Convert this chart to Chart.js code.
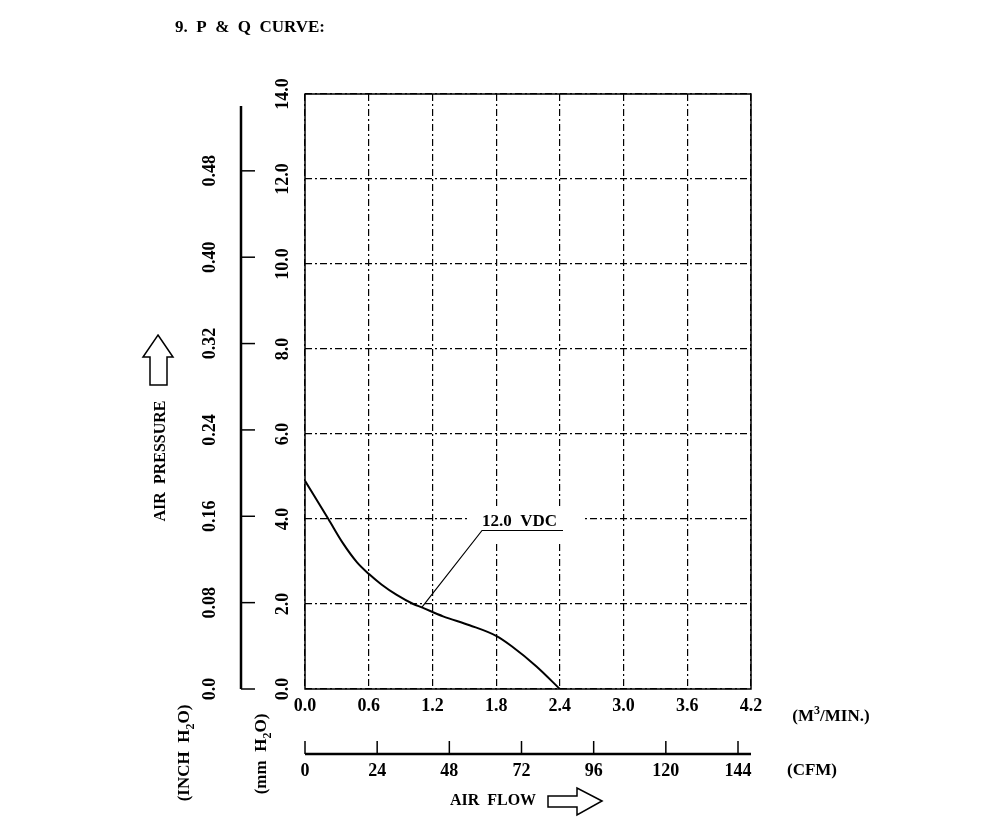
<!DOCTYPE html>
<html>
<head>
<meta charset="utf-8">
<script src="https://cdn.jsdelivr.net/npm/chart.js@4.4.1/dist/chart.umd.min.js"></script>
<style>
html, body { margin: 0; padding: 0; background: #fff; }
#wrap { width: 1000px; height: 824px; }
</style>
</head>
<body>
<div id="wrap"><canvas id="pq" width="1000" height="824"></canvas></div>
<script>
// air flow (m3/min) vs static pressure (mm H2O)
const flow = [0, 0.22, 0.36, 0.49, 0.6, 0.72, 0.86, 1.02, 1.1, 1.3, 1.55, 1.8, 1.95, 2.18, 2.4]
const pressure = [4.9, 4.0, 3.42, 2.98, 2.71, 2.46, 2.22, 2.0, 1.92, 1.71, 1.5, 1.25, 1.0, 0.53, 0]

const flowTicks = [0, 0.6, 1.2, 1.8, 2.4, 3.0, 3.6, 4.2]
const mmTicks = [0, 2, 4, 6, 8, 10, 12, 14]
const inchTicks = [0, 0.08, 0.16, 0.24, 0.32, 0.40, 0.48]
const cfmTicks = [0, 24, 48, 72, 96, 120, 144]

const curveLabel = '12.0  VDC'
const MM_PER_INCH = 25.4
const CFM_PER_M3 = 35.3147

const FONT = '"Liberation Serif", "DejaVu Serif", serif'

function font(size) { return 'bold ' + size + 'px ' + FONT }

// draw a run of text pieces (for sub/superscripts), centred on x,y, optionally rotated
function richText(ctx, parts, x, y, rot) {
  ctx.save()
  ctx.translate(x, y)
  if (rot) ctx.rotate(rot)
  ctx.textBaseline = 'middle'
  ctx.textAlign = 'left'
  let w = 0
  parts.forEach(p => { ctx.font = font(p.size); w += ctx.measureText(p.t).width })
  let cx = -w / 2
  parts.forEach(p => {
    ctx.font = font(p.size)
    ctx.fillText(p.t, cx, p.dy || 0)
    cx += ctx.measureText(p.t).width
  })
  ctx.restore()
}

function vText(ctx, txt, x, y, size) {
  richText(ctx, [{ t: txt, size: size }], x, y, -Math.PI / 2)
}

const decor = {
  id: 'pqDecor',
  beforeDatasetsDraw(chart) {
    const ctx = chart.ctx
    const xs = chart.scales.x, ys = chart.scales.y
    // curve label with white knock-out behind it
    const lx = xs.getPixelForValue(1.667), ly = ys.getPixelForValue(3.73)
    ctx.save()
    ctx.fillStyle = '#fff'
    ctx.fillRect(lx - 15, ly - 24, 116, 35)
    ctx.fillStyle = '#000'
    ctx.font = font(17)
    ctx.textAlign = 'left'
    ctx.textBaseline = 'alphabetic'
    ctx.fillText(curveLabel, lx, ly - 4)
    ctx.strokeStyle = '#000'
    ctx.lineWidth = 1.2
    ctx.beginPath()
    ctx.moveTo(lx + 81, ly)
    ctx.lineTo(lx, ly)
    ctx.lineTo(xs.getPixelForValue(1.1), ys.getPixelForValue(1.92))
    ctx.stroke()
    ctx.restore()
  },
  afterDraw(chart) {
    const ctx = chart.ctx
    const a = chart.chartArea
    const xs = chart.scales.x, ys = chart.scales.y
    ctx.save()
    ctx.strokeStyle = '#000'
    ctx.fillStyle = '#000'

    // plot frame
    ctx.lineWidth = 1.5
    ctx.strokeRect(a.left, a.top, a.right - a.left, a.bottom - a.top)

    // title
    ctx.font = font(17)
    ctx.textAlign = 'left'
    ctx.textBaseline = 'alphabetic'
    ctx.fillText('9.  P  &  Q  CURVE:', 175, 32)

    // m3/min tick labels
    ctx.textAlign = 'center'
    ctx.textBaseline = 'middle'
    ctx.font = font(18)
    flowTicks.forEach(v => ctx.fillText(v.toFixed(1), xs.getPixelForValue(v), 706))

    // mm H2O tick labels, rotated
    mmTicks.forEach(v => vText(ctx, v.toFixed(1), 283, ys.getPixelForValue(v), 18))

    // inch H2O axis
    const ix = 241
    ctx.lineWidth = 2.5
    ctx.beginPath()
    ctx.moveTo(ix, ys.getPixelForValue(0.54 * MM_PER_INCH))
    ctx.lineTo(ix, ys.getPixelForValue(0))
    ctx.stroke()
    ctx.lineWidth = 1.5
    inchTicks.forEach(v => {
      const py = ys.getPixelForValue(v * MM_PER_INCH)
      ctx.beginPath()
      ctx.moveTo(ix, py)
      ctx.lineTo(ix + 14, py)
      ctx.stroke()
      vText(ctx, v === 0 ? '0.0' : v.toFixed(2), 210, py, 18)
    })

    // CFM axis
    const cy = 754
    ctx.lineWidth = 2.5
    ctx.beginPath()
    ctx.moveTo(a.left, cy)
    ctx.lineTo(a.right, cy)
    ctx.stroke()
    ctx.lineWidth = 1.5
    cfmTicks.forEach(v => {
      const px = xs.getPixelForValue(v / CFM_PER_M3)
      ctx.beginPath()
      ctx.moveTo(px, cy)
      ctx.lineTo(px, cy - 13)
      ctx.stroke()
      ctx.font = font(18)
      ctx.textAlign = 'center'
      ctx.textBaseline = 'middle'
      ctx.fillText(String(v), px, 771)
    })

    // unit labels
    richText(ctx, [{ t: '(M', size: 17 }, { t: '3', size: 12, dy: -6 }, { t: '/MIN.)', size: 17 }], 831, 717)
    richText(ctx, [{ t: '(CFM)', size: 17 }], 812, 771)
    richText(ctx, [{ t: '(INCH  H', size: 17 }, { t: '2', size: 12, dy: 6 }, { t: 'O)', size: 17 }], 185, 753, -Math.PI / 2)
    richText(ctx, [{ t: '(mm  H', size: 17 }, { t: '2', size: 12, dy: 6 }, { t: 'O)', size: 17 }], 262, 754, -Math.PI / 2)

    // axis titles
    vText(ctx, 'AIR  PRESSURE', 161, 461, 16)
    richText(ctx, [{ t: 'AIR  FLOW', size: 16 }], 493, 801)

    // hollow arrows
    ctx.lineWidth = 1.5
    ctx.beginPath()
    ctx.moveTo(158, 335)
    ctx.lineTo(173, 357)
    ctx.lineTo(167, 357)
    ctx.lineTo(167, 385)
    ctx.lineTo(150, 385)
    ctx.lineTo(150, 357)
    ctx.lineTo(143, 357)
    ctx.closePath()
    ctx.stroke()

    ctx.beginPath()
    ctx.moveTo(602, 801)
    ctx.lineTo(577, 788)
    ctx.lineTo(577, 796)
    ctx.lineTo(548, 796)
    ctx.lineTo(548, 807)
    ctx.lineTo(577, 807)
    ctx.lineTo(577, 815)
    ctx.closePath()
    ctx.stroke()

    ctx.restore()
  }
}

const gridDash = [7, 3, 2, 3]

new Chart(document.getElementById('pq'), {
  type: 'line',
  data: {
    datasets: [{
      data: flow.map((q, i) => ({ x: q, y: pressure[i] })),
      borderColor: '#000',
      borderWidth: 2,
      pointRadius: 0,
      fill: false,
      cubicInterpolationMode: 'monotone'
    }]
  },
  options: {
    responsive: false,
    animation: false,
    layout: { padding: { left: 305, top: 94, right: 249, bottom: 135 } },
    plugins: { legend: { display: false }, tooltip: { enabled: false } },
    scales: {
      x: {
        type: 'linear', min: 0, max: 4.2,
        afterBuildTicks: s => { s.ticks = flowTicks.map(v => ({ value: v })) },
        afterFit: s => { s.height = 0 },
        ticks: { display: false },
        grid: { color: '#000', lineWidth: 1.2, drawTicks: false },
        border: { display: false, dash: gridDash }
      },
      y: {
        type: 'linear', min: 0, max: 14,
        afterBuildTicks: s => { s.ticks = mmTicks.map(v => ({ value: v })) },
        afterFit: s => { s.width = 0 },
        ticks: { display: false },
        grid: { color: '#000', lineWidth: 1.2, drawTicks: false },
        border: { display: false, dash: gridDash }
      }
    }
  },
  plugins: [decor]
})
</script>
</body>
</html>
